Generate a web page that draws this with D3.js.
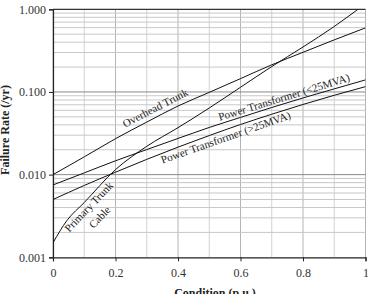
<!DOCTYPE html>
<html>
<head>
<meta charset="utf-8">
<script src="https://cdn.jsdelivr.net/npm/d3@7"></script>
<style>
  body { margin: 0; background: #fff; }
  text { font-family: "Liberation Serif", "Times New Roman", serif; fill: #222; }
</style>
</head>
<body>
<div id="chart"></div>
<script>
// condition (p.u.) and failure rates (/yr)
var conditions = [0, 0.1, 0.2, 0.3, 0.4, 0.5, 0.6, 0.7, 0.8, 0.9, 1.0];
var overheadTrunk = [0.0100, 0.0164, 0.0272, 0.0432, 0.0676, 0.0989, 0.145, 0.213, 0.302, 0.427, 0.596];
var transformerSmall = [0.0075, 0.0105, 0.0147, 0.0201, 0.0274, 0.0372, 0.0492, 0.0649, 0.0847, 0.109, 0.140];
var transformerLarge = [0.0050, 0.0074, 0.0107, 0.0153, 0.0215, 0.0297, 0.0404, 0.0538, 0.0706, 0.0912, 0.116];
var cableConditions = [0, 0.045, 0.1, 0.2, 0.3, 0.4, 0.5, 0.6, 0.7, 0.8, 0.9, 1.0];
var primaryCable = [0.0015, 0.0028, 0.0046, 0.0115, 0.0220, 0.0370, 0.0640, 0.114, 0.203, 0.350, 0.620, 1.17];

var xTicks = [0, 0.2, 0.4, 0.6, 0.8, 1];
var yTicks = [0.001, 0.01, 0.1, 1];

var margin = {top: 9.3, right: 2.5, bottom: 36.7, left: 53};
var width = 368 - margin.left - margin.right,
    height = 294 - margin.top - margin.bottom;

var svg = d3.select("#chart").append("svg")
    .attr("width", 368)
    .attr("height", 294)
  .append("g")
    .attr("transform", "translate(" + margin.left + "," + margin.top + ")");

var x = d3.scaleLinear().domain([0, 1]).range([0, width]);
var y = d3.scaleLog().domain([0.001, 1]).range([height, 0]);

// grid - vertical
var vGrid = d3.range(0, 11).map(function(i) { return i / 10; });
svg.append("g").selectAll("line")
    .data(vGrid)
  .enter().append("line")
    .attr("x1", function(d) { return x(d); })
    .attr("x2", function(d) { return x(d); })
    .attr("y1", 0)
    .attr("y2", height)
    .style("stroke", function(d, i) { return i % 2 == 0 ? "#b4b4b4" : "#d2d2d2"; })
    .style("stroke-width", 1);

// grid - horizontal (minor then decades)
var minor = [];
[0.001, 0.01, 0.1].forEach(function(dec) {
  for (var k = 2; k <= 9; k++) minor.push(dec * k);
});
svg.append("g").selectAll("line")
    .data(minor)
  .enter().append("line")
    .attr("x1", 0)
    .attr("x2", width)
    .attr("y1", function(d) { return y(d); })
    .attr("y2", function(d) { return y(d); })
    .style("stroke", "#c8c8c8")
    .style("stroke-width", 1);

svg.append("g").selectAll("line")
    .data([0.01, 0.1])
  .enter().append("line")
    .attr("x1", 0)
    .attr("x2", width)
    .attr("y1", function(d) { return y(d); })
    .attr("y2", function(d) { return y(d); })
    .style("stroke", "#8a8a8a")
    .style("stroke-width", 1);

// top border
svg.append("line")
    .attr("x1", 0).attr("x2", width)
    .attr("y1", y(1)).attr("y2", y(1))
    .style("stroke", "#333")
    .style("stroke-width", 1.3);

// axes
var xAxis = svg.append("g")
    .attr("transform", "translate(0," + height + ")")
    .call(d3.axisBottom(x)
      .tickValues(xTicks)
      .tickSize(4)
      .tickPadding(7)
      .tickFormat(function(d) { return d == 0 || d == 1 ? d3.format("d")(d) : d3.format(".1f")(d); }));

var yAxis = svg.append("g")
    .call(d3.axisLeft(y)
      .tickValues(yTicks)
      .tickSize(4)
      .tickPadding(3)
      .tickFormat(d3.format(".3f")));

[xAxis, yAxis].forEach(function(a) {
  a.select(".domain").style("stroke", "#222").style("stroke-width", 1.2);
  a.selectAll(".tick line").style("stroke", "#222");
  a.selectAll(".tick text")
    .style("font-family", "'Liberation Serif', serif")
    .style("font-size", "12px")
    .style("fill", "#333");
});

// axis titles
svg.append("text")
    .attr("x", 162)
    .attr("y", 297 - margin.top)
    .attr("text-anchor", "middle")
    .style("font-size", "12px")
    .style("font-weight", "bold")
    .text("Condition (p.u.)");

svg.append("text")
    .attr("transform", "translate(" + (8.5 - margin.left) + "," + (130 - margin.top) + ") rotate(-90)")
    .attr("text-anchor", "middle")
    .style("font-size", "12px")
    .style("font-weight", "bold")
    .text("Failure Rate (/yr)");

// curves
svg.append("clipPath").attr("id", "plotclip")
  .append("rect")
    .attr("width", width)
    .attr("height", height);

var line = d3.line()
    .curve(d3.curveMonotoneX)
    .x(function(d) { return x(d[0]); })
    .y(function(d) { return y(d[1]); });

var series = [
  [conditions, overheadTrunk],
  [conditions, transformerSmall],
  [conditions, transformerLarge],
  [cableConditions, primaryCable]
];

series.forEach(function(s) {
  svg.append("path")
      .datum(d3.zip(s[0], s[1]))
      .attr("clip-path", "url(#plotclip)")
      .attr("d", line)
      .style("fill", "none")
      .style("stroke", "#111")
      .style("stroke-width", 1);
});

// labels placed along the curves
function logAt(xs, ys, c) {
  var i = d3.bisectRight(xs, c) - 1;
  i = Math.max(0, Math.min(xs.length - 2, i));
  var t = (c - xs[i]) / (xs[i + 1] - xs[i]);
  return Math.log10(ys[i]) + t * (Math.log10(ys[i + 1]) - Math.log10(ys[i]));
}

function addLabel(xs, ys, c, lines, dys) {
  var px = x(c),
      py = y(Math.pow(10, logAt(xs, ys, c)));
  var x1 = x(c - 0.04), x2 = x(c + 0.04);
  var y1 = y(Math.pow(10, logAt(xs, ys, c - 0.04))),
      y2 = y(Math.pow(10, logAt(xs, ys, c + 0.04)));
  var ang = Math.atan2(y2 - y1, x2 - x1) * 180 / Math.PI;
  var t = svg.append("text")
      .attr("transform", "translate(" + px + "," + py + ") rotate(" + ang + ")")
      .attr("text-anchor", "middle")
      .style("font-size", "11px")
      .style("fill", "#222");
  lines.forEach(function(s, i) {
    t.append("tspan").attr("x", 0).attr("y", dys[i]).text(s);
  });
}

addLabel(conditions, overheadTrunk, 0.34, ["Overhead Trunk"], [-5]);
addLabel(conditions, transformerSmall, 0.745, ["Power Transformer (<25MVA)"], [-2.5]);
addLabel(conditions, transformerLarge, 0.545, ["Power Transformer (>25MVA)"], [11]);
addLabel(cableConditions, primaryCable, 0.1, ["Primary Trunk", "Cable"], [10, 25]);
</script>
</body>
</html>
